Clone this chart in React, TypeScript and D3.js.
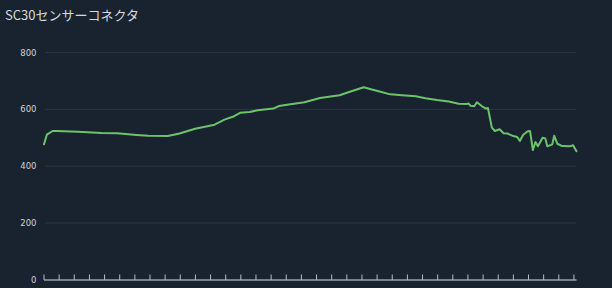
import React from "react";
import * as d3 from "d3";

const title = "SC30センサーコネクタ";
const yTicks = [0, 200, 400, 600, 800];
const xTickCount = 36;
const times = [
  0, 0.19, 0.57, 0.83, 2.25, 3.8, 4.83, 6.12, 6.89, 8.18, 8.95, 9.98, 11.27, 11.92, 12.56, 12.95,
  13.59, 14.11, 15.14, 15.53, 16.17, 17.2, 18.23, 19.52, 20.3, 21.12, 21.59, 22.1, 22.87, 23.65,
  24.55, 25.19, 25.96, 26.74, 27.38, 27.9, 28.03, 28.16, 28.42, 28.59, 28.93, 29.19, 29.32, 29.58,
  29.78, 30.09, 30.35, 30.61, 31.0, 31.25, 31.43, 31.64, 31.95, 32.1, 32.29, 32.46, 32.62, 32.93,
  33.11, 33.24, 33.57, 33.7, 33.91, 34.22, 34.73, 34.94, 35.17,
];
const values = [
  477, 511, 524, 524, 521, 517, 516, 510, 507, 506, 515, 532, 546, 564, 576, 588,
  591, 597, 603, 612, 617, 625, 640, 650, 664, 678, 671, 664, 653, 650,
  646, 639, 633, 628, 620, 619, 621, 613, 611, 625, 611, 603, 605, 536,
  524, 530, 516, 515, 506, 503, 489, 510, 523, 524, 457, 485, 470, 500,
  498, 470, 477, 507, 479, 471, 470, 474, 453,
];

export default function App() {
  const W = 612;
  const H = 288;
  const x = d3.scaleLinear().domain([0, 35.17]).range([44, 576.5]);
  const y = d3.scaleLinear().domain([0, 800]).range([279.8, 52.6]);
  const pts = times.map((t, i) => [t, values[i]] as [number, number]);
  const line = d3
    .line<[number, number]>()
    .x((d) => x(d[0]))
    .y((d) => y(d[1]))
    .curve(d3.curveLinear);
  const xt = d3.range(xTickCount);
  return (
    <svg
      width={W}
      height={H}
      style={{ position: "absolute", left: 0, top: 0, background: "#19232f" }}
    >
      <rect x={0} y={0} width={W} height={H} fill="#19232f" />
      <text
        x={5}
        y={20}
        fontSize={13}
        fill="#d6dadf"
        fontFamily="'Noto Sans CJK JP', 'Noto Sans', sans-serif"
      >
        {title}
      </text>
      {yTicks.map((v) =>
        v === 0 ? null : (
          <line
            key={"g" + v}
            x1={45}
            x2={576}
            y1={y(v)}
            y2={y(v)}
            stroke="#2b3644"
            strokeWidth={1}
          />
        )
      )}
      {yTicks.map((v) => (
        <text
          key={"l" + v}
          x={36.5}
          y={y(v) + 3}
          fontSize={8.5}
          textAnchor="end"
          fill="#cfd3d9"
          fontFamily="'DejaVu Sans', sans-serif"
        >
          {v}
        </text>
      ))}
      <line x1={44} x2={576.5} y1={280} y2={280} stroke="#9aa3ad" strokeWidth={1.5} />
      {xt.map((t) => (
        <line
          key={"t" + t}
          x1={x(t)}
          x2={x(t)}
          y1={274.5}
          y2={280}
          stroke="#b5bcc4"
          strokeWidth={1}
        />
      ))}
      <path
        d={line(pts) || ""}
        fill="none"
        stroke="#6cc46a"
        strokeWidth={2}
        strokeLinejoin="round"
        strokeLinecap="round"
      />
    </svg>
  );
}
